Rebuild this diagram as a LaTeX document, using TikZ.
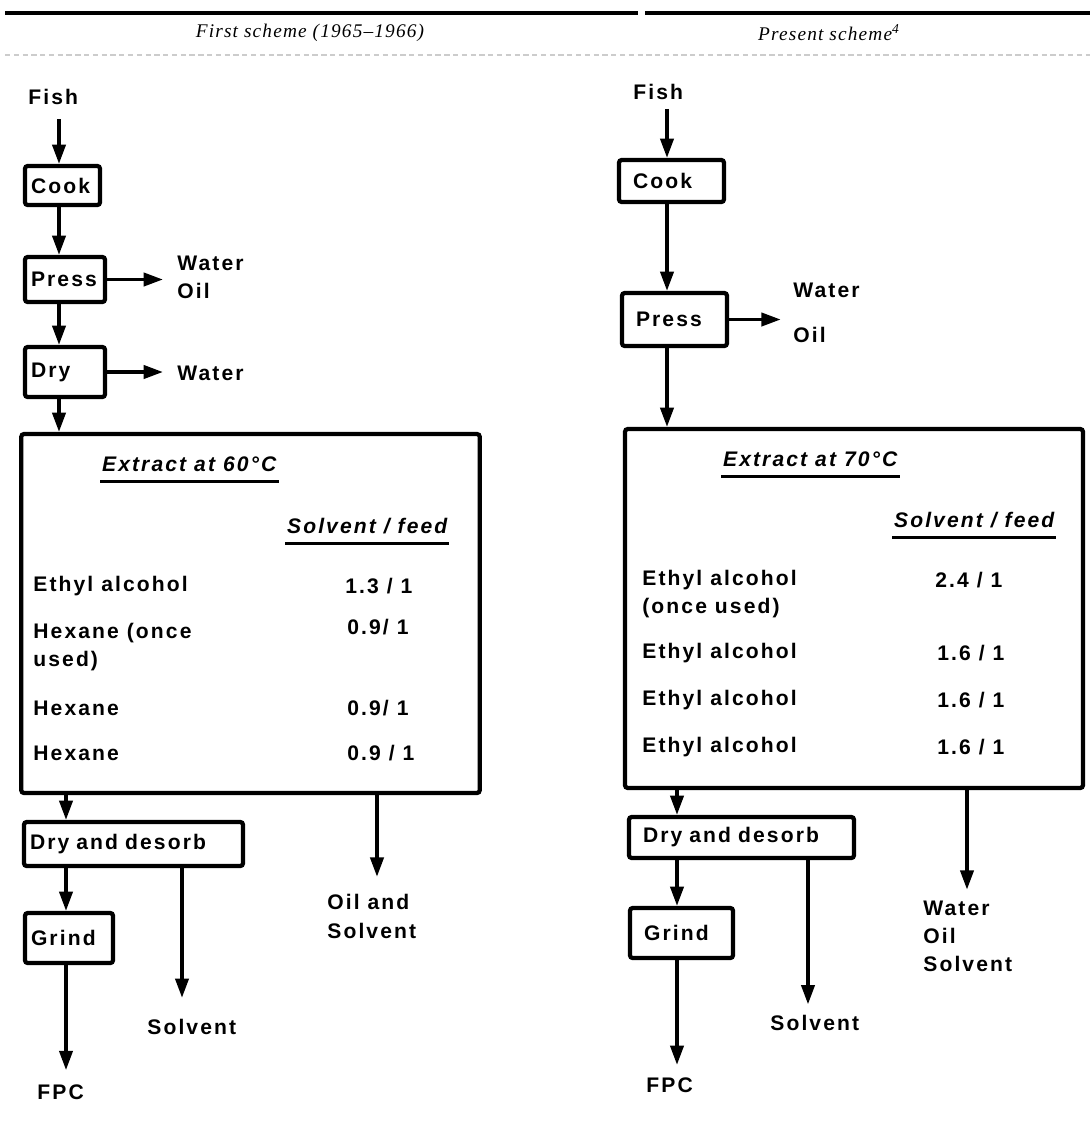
\documentclass[tikz,border=0pt]{standalone}
\usepackage{fontspec}
\newfontfamily\flowfont{Liberation Sans}[LetterSpace=10]
\newfontfamily\capfont{Liberation Serif}[LetterSpace=6]
\usetikzlibrary{arrows.meta}

\begin{document}
\begin{tikzpicture}[x=0.02cm, y=-0.02cm,
    every node/.style={font=\flowfont\fontsize{12}{16}\selectfont\bfseries},
    procL/.style={draw, line width=2.4pt, rounded corners=1.5pt, inner xsep=0.12cm, inner ysep=0pt, align=left},
    procR/.style={procL, inner xsep=0.28cm},
    extbox/.style={draw, line width=2.4pt, rounded corners=1.5pt, minimum width=9.17cm, minimum height=7.18cm},
    lbl/.style={inner sep=0pt, anchor=west, align=left},
    hd/.style={inner xsep=1pt, inner ysep=0.2cm, anchor=base west, text depth=0pt,
      font=\flowfont\fontsize{12}{16}\selectfont\bfseries\itshape},
    capt/.style={font=\capfont\itshape\fontsize{11}{13}\selectfont},
    flow/.style={line width=2pt, -{Triangle[length=11pt, width=7.5pt]}},
    uline/.style={line width=2pt}]
  \useasboundingbox (0,0) rectangle (1092,1127);

  % table head
  \draw[line width=2.2pt] (5,13) -- (638,13);
  \draw[line width=2.2pt] (645,13) -- (1090,13);
  \node[capt] (capL) at (310,33) {First scheme (1965–1966)};
  \node[capt] (capR) at (829,33) {Present scheme\textsuperscript{4}};
  \draw[gray!40, line width=0.6pt, dash pattern=on 3pt off 2pt] (5,55) -- (1090,55);

  % stream columns
  \coordinate (cL1) at (59,0);
  \coordinate (cL2) at (66,0);
  \coordinate (sL) at (182,0);
  \coordinate (oL) at (377,0);
  \coordinate (cR1) at (667,0);
  \coordinate (cR2) at (677,0);
  \coordinate (sR) at (808,0);
  \coordinate (oR) at (967,0);

  % first scheme
  \node[lbl] (fishL) at (28,97) {Fish};
  \node[procL, text width=1.26cm, minimum height=0.78cm] (cookL) at (62.5,185.5) {Cook};
  \node[procL, text width=1.36cm, minimum height=0.9cm] (pressL) at (65,279.5) {Press};
  \node[procL, text width=1.36cm, minimum height=1.0cm] (dryL) at (65,372) {Dry};
  \node[lbl] (pressOutL) at (177,277.5) {Water\\Oil};
  \node[lbl] (dryOutL) at (177,373) {Water};

  \node[extbox] (extL) at (250.5,613.5) {};
  \node[hd] (hdExtL) at (100,471) {Extract at 60°C};
  \node[hd] (hdSfL) at (285,533) {Solvent / feed};
  \draw[uline] (hdExtL.south west) -- (hdExtL.south east);
  \draw[uline] (hdSfL.south west) -- (hdSfL.south east);
  \node[lbl] (r1L) at (33,586) {Ethyl alcohol};
  \node[lbl] (r2L) at (33,647) {Hexane (once\\used)};
  \node[lbl] (r3L) at (33,708) {Hexane};
  \node[lbl] (r4L) at (33,753) {Hexane};
  \node[lbl] (v1L) at (345,586) {1.3 / 1};
  \node[lbl] (v2L) at (347,627) {0.9/ 1};
  \node[lbl] (v3L) at (347,708) {0.9/ 1};
  \node[lbl] (v4L) at (347,753) {0.9 / 1};

  \node[procL, text width=4.14cm, minimum height=0.88cm] (desorbL) at (133.5,844) {Dry and desorb};
  \node[procL, text width=1.52cm, minimum height=1.0cm] (grindL) at (69,938) {Grind};
  \node[lbl] (oilL) at (327,916.5) {Oil and\\Solvent};
  \node[lbl] (solvL) at (147,1027) {Solvent};
  \node[lbl] (fpcL) at (37,1092) {FPC};

  \draw[flow, shorten <=8pt] (fishL.south -| cL1) -- (cookL.north -| cL1);
  \draw[flow] (cookL.south -| cL1) -- (pressL.north -| cL1);
  \draw[flow] (pressL.south -| cL1) -- (dryL.north -| cL1);
  \draw[flow] (dryL.south -| cL1) -- (extL.north -| cL1);
  \draw[flow, shorten >=8pt] (pressL.east) -- (pressL.east -| pressOutL.west);
  \draw[flow, shorten >=8pt] (dryL.east) -- (dryL.east -| dryOutL.west);
  \draw[flow] (extL.south -| cL2) -- (desorbL.north -| cL2);
  \draw[flow, shorten >=10pt] (extL.south -| oL) -- (oilL.north -| oL);
  \draw[flow] (desorbL.south -| cL2) -- (grindL.north -| cL2);
  \draw[flow, shorten >=12pt] (desorbL.south -| sL) -- (solvL.north -| sL);
  \draw[flow, shorten >=8pt] (grindL.south -| cL2) -- (fpcL.north -| cL2);

  % present scheme
  \node[lbl] (fishR) at (633,92) {Fish};
  \node[procR, text width=1.54cm, minimum height=0.84cm] (cookR) at (671.5,181) {Cook};
  \node[procR, text width=1.54cm, minimum height=1.06cm] (pressR) at (674.5,319.5) {Press};
  \node[lbl] (pressOutR) at (793,313) {Water\\[10pt]Oil};

  \node[extbox, minimum width=9.16cm] (extR) at (854,608.5) {};
  \node[hd] (hdExtR) at (721,466) {Extract at 70°C};
  \node[hd] (hdSfR) at (892,527) {Solvent / feed};
  \draw[uline] (hdExtR.south west) -- (hdExtR.south east);
  \draw[uline] (hdSfR.south west) -- (hdSfR.south east);
  \node[lbl] (r1R) at (642,594) {Ethyl alcohol\\(once used)};
  \node[lbl] (r2R) at (642,653) {Ethyl alcohol};
  \node[lbl] (r3R) at (642,700) {Ethyl alcohol};
  \node[lbl] (r4R) at (642,747) {Ethyl alcohol};
  \node[lbl] (v1R) at (935,580) {2.4 / 1};
  \node[lbl] (v2R) at (937,653) {1.6 / 1};
  \node[lbl] (v3R) at (937,700) {1.6 / 1};
  \node[lbl] (v4R) at (937,747) {1.6 / 1};

  \node[procR, text width=3.94cm, minimum height=0.82cm] (desorbR) at (741.5,837.5) {Dry and desorb};
  \node[procR, text width=1.5cm, minimum height=1.0cm] (grindR) at (681.5,933) {Grind};
  \node[lbl] (wosR) at (923,936) {Water\\Oil\\Solvent};
  \node[lbl] (solvR) at (770,1023) {Solvent};
  \node[lbl] (fpcR) at (646,1085) {FPC};

  \draw[flow, shorten <=5pt] (fishR.south -| cR1) -- (cookR.north -| cR1);
  \draw[flow] (cookR.south -| cR1) -- (pressR.north -| cR1);
  \draw[flow] (pressR.south -| cR1) -- (extR.north -| cR1);
  \draw[flow, shorten >=7pt] (pressR.east) -- (pressR.east -| pressOutR.west);
  \draw[flow] (extR.south -| cR2) -- (desorbR.north -| cR2);
  \draw[flow, shorten >=6pt] (extR.south -| oR) -- (wosR.north -| oR);
  \draw[flow] (desorbR.south -| cR2) -- (grindR.north -| cR2);
  \draw[flow, shorten >=6pt] (desorbR.south -| sR) -- (solvR.north -| sR);
  \draw[flow, shorten >=7pt] (grindR.south -| cR2) -- (fpcR.north -| cR2);
\end{tikzpicture}
\end{document}
